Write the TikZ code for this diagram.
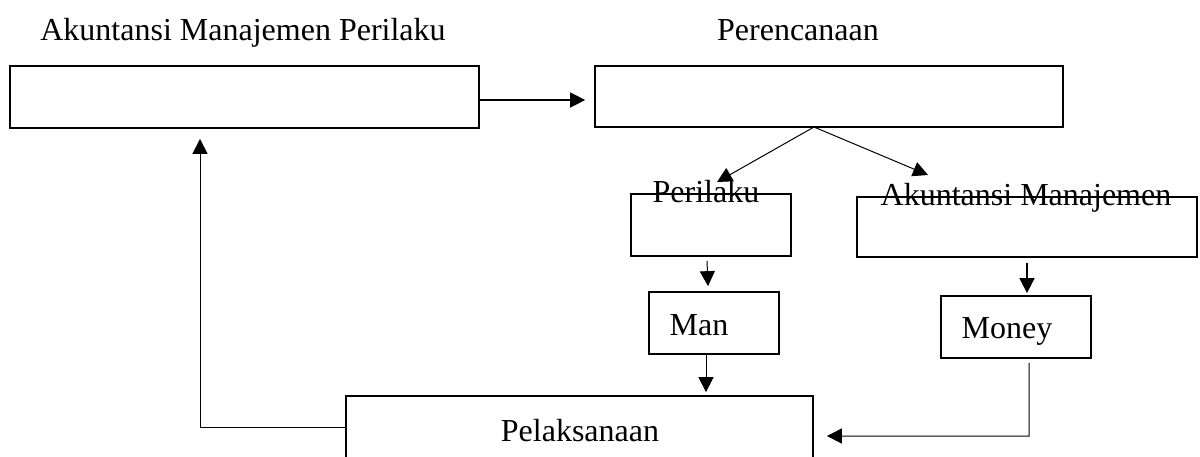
\documentclass[tikz,border=0pt]{standalone}
\usepackage{fontspec}
\setmainfont{Liberation Serif}
\usetikzlibrary{arrows.meta}
\begin{document}
\begin{tikzpicture}[x=0.4pt, y=-0.4pt, font=\fontsize{12.8}{15}\selectfont]
    \tikzset{box node/.style={draw, line width=0.7pt, inner sep=0pt},
             text node/.style={inner sep=0pt, anchor=base},
             arrow line/.style={-{Triangle[length=6pt,width=6pt]}, line width=0.4pt}}

    % Page
    \path[fill=white] (0,0) rectangle (1200,456);
    \useasboundingbox (0,0) rectangle (1200,456);

    % Top row
    \node[box node, minimum width=187.6pt, minimum height=24.8pt] (amp) at (244.5,97) {};
    \node[box node, minimum width=187.2pt, minimum height=24.4pt] (plan) at (829,96.5) {};
    \node[text node] (amp-t) at (243,40) {Akuntansi Manajemen Perilaku};
    \node[text node] (plan-t) at (798,40) {Perencanaan};

    % Middle row
    \node[box node, minimum width=64pt, minimum height=24.8pt] (beh) at (711,225) {};
    \node[box node, minimum width=136pt, minimum height=24pt] (acc) at (1027,227) {};
    \node[text node] (beh-t) at (706,202) {Perilaku};
    \node[text node] (acc-t) at (1026,205) {Akuntansi Manajemen};

    % Resources
    \node[box node, minimum width=52pt, minimum height=24.8pt] (man) at (714,323) {};
    \node[box node, minimum width=60pt, minimum height=24.8pt] (money) at (1016,327) {};
    \node[text node] (man-t) at (699,335) {Man};
    \node[text node] (money-t) at (1007,338) {Money};

    % Bottom
    \node[box node, minimum width=186.8pt, minimum height=25.6pt] (exec) at (579.5,428) {};
    \node[text node] (exec-t) at (580,441) {Pelaksanaan};

    % Helper points
    \coordinate (fork) at (814,127);
    \coordinate (tip-beh) at (717,182);
    \coordinate (tip-acc) at (928,175);
    \coordinate (turn-money) at (1029,436);
    \coordinate (turn-exec) at (200,427);

    % Edges
    \draw[arrow line, line width=0.6pt] (amp.east |- 0,100) -- ([xshift=-3.6pt]plan.west |- 0,100);
    \draw[arrow line] (fork) -- (tip-beh);
    \draw[arrow line] (fork) -- (tip-acc);
    \draw[arrow line] ([xshift=-1.6pt,yshift=-1.6pt]beh.south) -- ([xshift=-2.4pt,yshift=2pt]man.north);
    \draw[arrow line, line width=0.6pt] ([yshift=-2pt]acc.south) -- ([yshift=0.8pt]acc.south |- money.north);
    \draw[arrow line] ([xshift=-3.2pt]man.south) -- ([xshift=-3.2pt,yshift=1.2pt]man.south |- exec.north);
    \draw[arrow line] ([xshift=5.2pt,yshift=-1.6pt]money.south) -- (turn-money) -- ([xshift=5.2pt]exec.east |- turn-money);
    \draw[arrow line] (exec.west |- turn-exec) -- (turn-exec) -- ([yshift=-4pt]turn-exec |- amp.south);
\end{tikzpicture}
\end{document}
